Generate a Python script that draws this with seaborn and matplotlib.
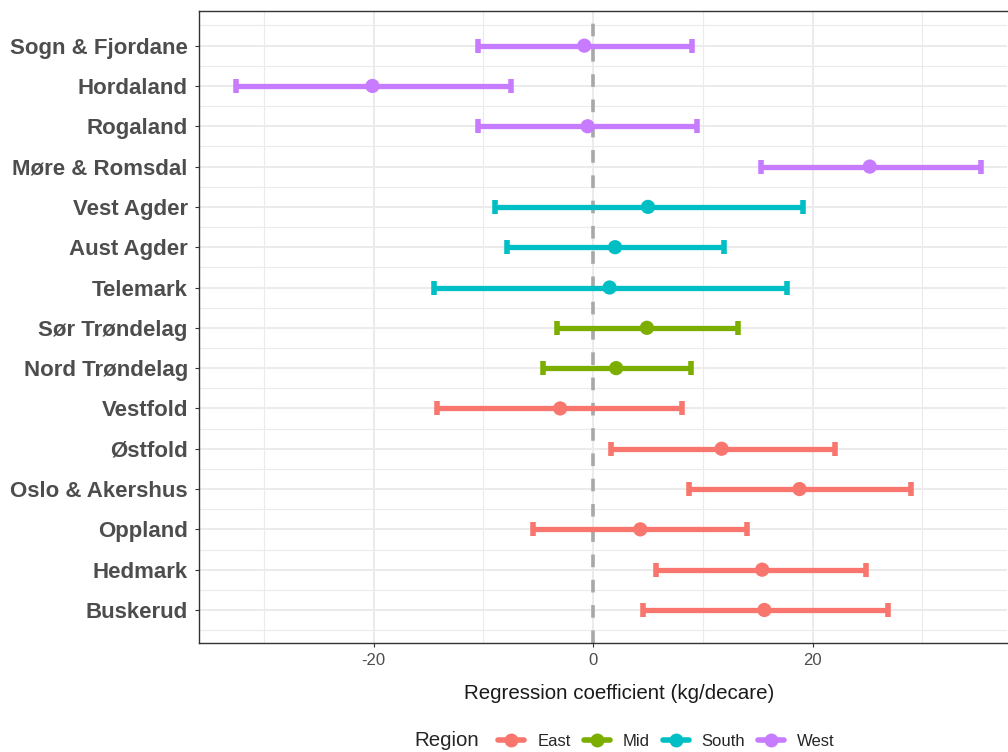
import matplotlib
matplotlib.use("Agg")
import matplotlib.pyplot as plt
import seaborn as sns
import pandas as pd
import numpy as np
from matplotlib.lines import Line2D
from matplotlib.offsetbox import HPacker

counties = ["Buskerud", "Hedmark", "Oppland", "Oslo & Akershus", "Østfold", "Vestfold",
            "Nord Trøndelag", "Sør Trøndelag", "Telemark", "Aust Agder", "Vest Agder",
            "Møre & Romsdal", "Rogaland", "Hordaland", "Sogn & Fjordane"]
regions = ["East", "East", "East", "East", "East", "East",
           "Mid", "Mid", "South", "South", "South",
           "West", "West", "West", "West"]
estimate = [15.6, 15.4, 4.3, 18.8, 11.7, -3.0, 2.1, 4.9, 1.5, 2.0, 5.0, 25.2, -0.5, -20.1, -0.8]
lower = [4.5, 5.7, -5.5, 8.7, 1.6, -14.2, -4.6, -3.3, -14.5, -7.8, -8.9, 15.3, -10.5, -32.5, -10.5]
upper = [26.9, 24.9, 14.0, 29.0, 22.0, 8.1, 8.9, 13.2, 17.7, 11.9, 19.1, 35.3, 9.5, -7.5, 9.0]

region_order = ["East", "Mid", "South", "West"]
palette = {"East": "#F8766D", "Mid": "#7CAE00", "South": "#00BFC4", "West": "#C77CFF"}

df = pd.DataFrame({"county": counties, "region": regions, "est": estimate,
                   "lo": lower, "hi": upper})
df["y"] = np.arange(len(df))

sns.set_theme(style="white")
plt.rcParams['font.family'] = ['Liberation Sans', 'DejaVu Sans']

fig = plt.figure(figsize=(10.08, 7.52), dpi=100)
ax = fig.add_axes([0.1974, 0.1449, 0.8016, 0.8405])

# grid
for v in [-30, -10, 10, 30]:
    ax.axvline(v, color="#EBEBEB", lw=0.8, zorder=0)
for v in [-20, 0, 20]:
    ax.axvline(v, color="#EBEBEB", lw=1.4, zorder=0)
for i in range(len(df)):
    ax.axhline(i, color="#EBEBEB", lw=1.4, zorder=0)
    ax.axhline(i + 0.5, color="#EBEBEB", lw=0.8, zorder=0)
ax.axhline(-0.5, color="#EBEBEB", lw=0.8, zorder=0)

ax.axvline(0, color="#A8A8A8", lw=2.6, ls=(0, (3.5, 3.5)), zorder=1)

for r in region_order:
    sub = df[df.region == r]
    ax.errorbar(sub["est"], sub["y"],
                xerr=[sub["est"] - sub["lo"], sub["hi"] - sub["est"]],
                fmt="none", ecolor=palette[r], elinewidth=3.8, capsize=5.0,
                capthick=4.0, zorder=2)

sns.scatterplot(data=df, x="est", y="y", hue="region", hue_order=region_order,
                palette=palette, s=105, edgecolor="none", ax=ax, zorder=3,
                legend=False)

ax.set_xlim(-35.9, 37.7)
ax.set_ylim(-0.82, 14.86)
ax.set_yticks(df["y"])
ax.set_yticklabels(df["county"], fontsize=16, fontweight="bold", color="#4D4D4D")
ax.set_xticks([-20, 0, 20])
ax.set_xticklabels(["-20", "0", "20"], fontsize=12, color="#4D4D4D")
ax.tick_params(axis="both", length=3, width=0.8, color="#333333", direction="out",
               bottom=True, left=True)
ax.tick_params(axis="y", pad=5)
ax.tick_params(axis="x", pad=4)
ax.set_xlabel("Regression coefficient (kg/decare)", fontsize=14.8, color="#1A1A1A", labelpad=12)
ax.xaxis.label.set_x((619 - 199) / 808)
ax.set_ylabel("")

for s in ["top", "left", "bottom"]:
    ax.spines[s].set_color("#333333")
    ax.spines[s].set_linewidth(1.0)
ax.spines["right"].set_visible(False)

handles = [Line2D([0], [0], color=palette[r], lw=4, marker="o", markersize=9)
           for r in region_order]
leg = fig.legend(handles, region_order, loc="center", ncol=4,
                 bbox_to_anchor=(624.5 / 1008, 11 / 752), frameon=False, fontsize=12,
                 title="Region", title_fontsize=14.8, handlelength=1.56,
                 columnspacing=0.78, handletextpad=0.78, borderpad=0, borderaxespad=0)
title_box = leg._legend_title_box
body = leg._legend_handle_box
leg._legend_box._children = [HPacker(children=[title_box, body], align="center", pad=0, sep=14)]

fig.savefig("out.png", dpi=100)
